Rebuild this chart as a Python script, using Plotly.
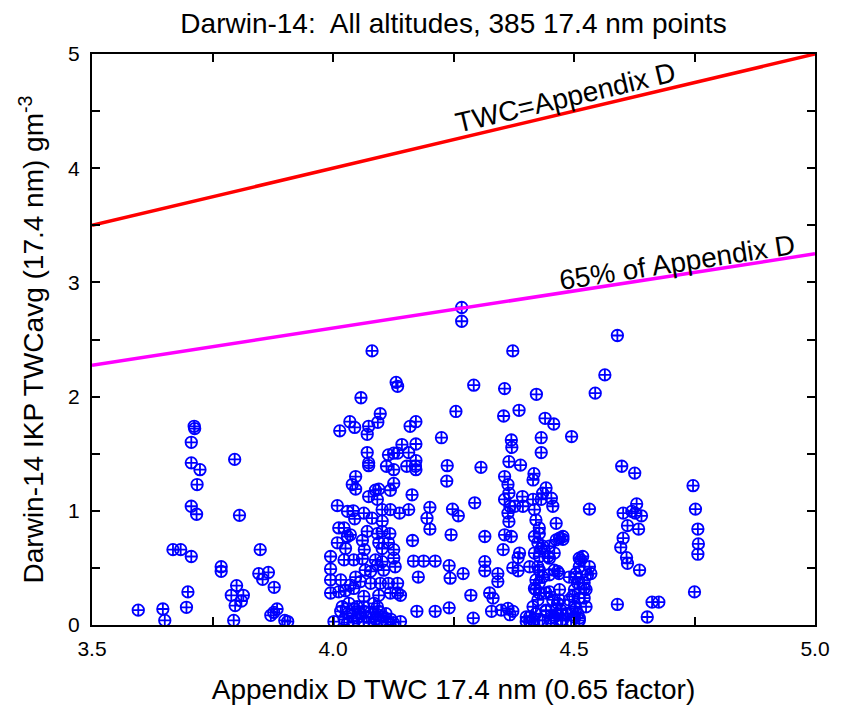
import plotly.graph_objects as go

# ---- Data ----
# Appendix D reference lines
line_x = [3.5, 5.0]
line_twc = [3.5, 5.0]          # TWC = Appendix D
line_65 = [2.275, 3.25]        # 65% of Appendix D

# Scatter points, grouped by cluster (x = Appendix D TWC, y = IKP TWCavg)
x_left = [3.596, 3.647, 3.651, 3.668, 3.684, 3.706, 3.699, 3.696, 3.712, 3.713, 3.706, 3.706,
          3.724, 3.718, 3.706, 3.717, 3.796, 3.806, 3.768, 3.768, 3.800, 3.789, 3.814, 3.810,
          3.797, 3.794, 3.849, 3.846, 3.854, 3.866, 3.878, 3.884, 3.877, 3.871, 3.900, 3.906]
y_left = [0.13, 0.14, 0.04, 0.66, 0.66, 0.60, 0.29, 0.155, 1.74, 1.72, 1.60, 1.42,
          1.36, 1.23, 1.04, 0.97, 1.45, 0.96, 0.51, 0.47, 0.345, 0.26, 0.26, 0.21,
          0.17, 0.04, 0.66, 0.45, 0.40, 0.46, 0.33, 0.14, 0.11, 0.085, 0.04, 0.03]

x_c40 = [4.081, 4.131, 4.134, 4.058, 4.098, 4.035, 4.045, 4.014, 4.074, 4.071, 4.093, 4.071,
         4.074, 4.074, 4.115, 4.126, 4.134, 4.111, 4.126, 4.047, 4.040, 4.047, 4.074, 4.088,
         4.095, 4.092, 4.119, 4.126, 4.009, 4.030, 4.042, 4.045, 4.064, 4.081, 4.102, 4.102,
         4.119, 4.138, 4.012, 4.023, 4.030, 4.036, 4.071, 4.092, 4.102, 4.118, 4.009, 4.026,
         4.061, 4.065, 4.095, 4.102, 4.115, 4.126, 3.995, 4.023, 4.043, 4.061, 4.088, 4.102,
         4.126, 4.129, 3.995, 4.047, 4.067, 4.078, 4.092, 4.105, 3.995, 4.016, 4.036, 4.057,
         4.078, 4.098, 4.115, 4.134, 3.995, 4.012, 4.026, 4.043, 4.064, 4.095, 4.119, 4.019,
         4.033, 4.050, 4.064, 4.085, 4.092, 4.134, 4.140,
         4.002, 4.016, 4.030, 4.045, 4.064, 4.078, 4.092, 4.105, 4.085, 4.064, 4.043, 4.112,
         4.023, 4.050, 4.070, 4.088, 4.100, 4.120, 4.030, 4.056, 4.075, 4.095, 4.110, 4.125,
         4.040]
y_c40 = [2.40, 2.125, 2.09, 1.99, 1.85, 1.78, 1.73, 1.70, 1.74, 1.67, 1.775, 1.51,
         1.42, 1.395, 1.49, 1.505, 1.505, 1.39, 1.36, 1.30, 1.23, 1.19, 1.125, 1.18,
         1.19, 1.10, 1.18, 1.24, 1.045, 0.995, 1.00, 0.93, 0.98, 0.935, 1.01, 0.91,
         1.01, 0.98, 0.85, 0.85, 0.775, 0.79, 0.82, 0.80, 0.82, 0.80, 0.72, 0.67,
         0.74, 0.66, 0.72, 0.67, 0.72, 0.66, 0.60, 0.57, 0.57, 0.58, 0.57, 0.555,
         0.585, 0.51, 0.49, 0.42, 0.48, 0.47, 0.525, 0.48, 0.395, 0.395, 0.35, 0.38,
         0.365, 0.365, 0.365, 0.365, 0.28, 0.29, 0.30, 0.32, 0.25, 0.26, 0.28, 0.16,
         0.19, 0.16, 0.16, 0.19, 0.16, 0.28, 0.03,
         0.03, 0.12, 0.10, 0.14, 0.12, 0.11, 0.09, 0.07, 0.03, 0.03, 0.03, 0.03,
         0.05, 0.06, 0.07, 0.05, 0.04, 0.05, 0.02, 0.10, 0.02, 0.12, 0.10, 0.02,
         0.08]

x_mid = [4.292, 4.255, 4.160, 4.172, 4.225, 4.143, 4.172, 4.157, 4.172, 4.153, 4.171, 4.172,
         4.237, 4.236, 4.307, 4.164, 4.157, 4.201, 4.195, 4.201, 4.248, 4.260, 4.294, 4.245,
         4.165, 4.315, 4.167, 4.188, 4.212, 4.241, 4.243, 4.270, 4.177, 4.315, 4.315, 4.140,
         4.286, 4.174, 4.212, 4.241, 4.291, 4.267, 4.267]
y_mid = [2.10, 1.87, 1.74, 1.78, 1.64, 1.58, 1.585, 1.51, 1.44, 1.39, 1.39, 1.36,
         1.395, 1.26, 1.38, 1.14, 1.01, 1.03, 0.935, 0.84, 1.015, 0.956, 1.07, 0.79,
         0.74, 0.775, 0.56, 0.56, 0.56, 0.52, 0.41, 0.45, 0.42, 0.555, 0.475, 0.26,
         0.26, 0.12, 0.12, 0.15, 0.06, 2.78, 2.66]

x_c44 = [4.373, 4.356, 4.422, 4.354, 4.386, 4.440, 4.458, 4.370, 4.371, 4.432, 4.432, 4.365,
         4.389, 4.356, 4.363, 4.365, 4.417, 4.415, 4.442, 4.435, 4.432, 4.393, 4.415, 4.453,
         4.456, 4.356, 4.367, 4.363, 4.365, 4.377, 4.394, 4.418, 4.421, 4.428, 4.463, 4.356,
         4.370, 4.418, 4.428, 4.353, 4.387, 4.384, 4.342, 4.373, 4.384, 4.408, 4.425, 4.418,
         4.432, 4.446, 4.459, 4.325, 4.332, 4.329, 4.349, 4.363, 4.367, 4.373, 4.342,
         4.428, 4.421, 4.435, 4.449, 4.466, 4.511, 4.535, 4.504, 4.418, 4.428, 4.449, 4.470,
         4.470, 4.490, 4.511, 4.521, 4.504, 4.511, 4.401, 4.421, 4.442, 4.463, 4.483, 4.428,
         4.408, 4.452, 4.476, 4.501, 4.425, 4.435, 4.449, 4.463, 4.470, 4.477, 4.428, 4.449,
         4.408, 4.415, 4.425, 4.421, 4.428, 4.442, 4.456, 4.442, 4.452, 4.466, 4.415, 4.435,
         4.401]
y_c44 = [2.40, 2.07, 2.02, 1.83, 1.88, 1.81, 1.76, 1.62, 1.555, 1.64, 1.51, 1.43,
         1.40, 1.30, 1.23, 1.155, 1.325, 1.27, 1.20, 1.155, 1.10, 1.125, 1.10, 1.11,
         1.04, 1.10, 1.04, 0.98, 0.905, 1.04, 1.04, 1.01, 0.92, 0.85, 0.89, 0.79,
         0.775, 0.775, 0.80, 0.66, 0.63, 0.59, 0.45, 0.50, 0.475, 0.51, 0.51, 0.63,
         0.67, 0.60, 0.63, 0.28, 0.235, 0.12, 0.13, 0.145, 0.09, 0.12, 0.38,
         0.48, 0.395, 0.42, 0.44, 0.47, 0.585, 0.45, 0.45, 0.32, 0.28, 0.29, 0.31,
         0.22, 0.22, 0.235, 0.32, 0.145, 0.06, 0.07, 0.10, 0.12, 0.13, 0.10, 0.04,
         0.03, 0.04, 0.04, 0.07, 0.72, 0.69, 0.69, 0.745, 0.76, 0.775, 0.60, 0.585,
         0.07, 0.16, 0.22, 0.31, 0.37, 0.28, 0.22, 0.13, 0.06, 0.10, 0.04, 0.04,
         0.03]

x_right = [4.590, 4.564, 4.544, 4.495, 4.599, 4.626, 4.532, 4.630, 4.602, 4.620, 4.627, 4.640,
           4.611, 4.634, 4.602, 4.597, 4.609, 4.611, 4.636, 4.590, 4.662, 4.676, 4.652, 4.747,
           4.752, 4.757, 4.758, 4.757, 4.750,
           4.477, 4.459, 4.469, 4.490, 4.514, 4.518, 4.511, 4.532, 4.528, 4.504, 4.507, 4.521,
           4.501, 4.525, 4.497, 4.521, 4.525, 4.501, 4.508, 4.511, 4.466, 4.473, 4.487, 4.494,
           4.459, 4.473]
y_right = [2.535, 2.19, 2.03, 1.65, 1.39, 1.33, 1.015, 1.06, 0.98, 0.995, 0.98, 0.956,
           0.87, 0.84, 0.76, 0.68, 0.59, 0.54, 0.48, 0.18, 0.20, 0.20, 0.07, 1.22,
           1.015, 0.84, 0.71, 0.62, 0.29,
           0.75, 0.48, 0.45, 0.42, 0.57, 0.60, 0.51, 0.51, 0.44, 0.42, 0.37, 0.37,
           0.31, 0.31, 0.25, 0.235, 0.16, 0.16, 0.10, 0.04, 0.19, 0.13, 0.10, 0.04,
           0.07, 0.04]

x_ticks = [3.5, 4.0, 4.5, 5.0]
x_tick_labels = ["3.5", "4.0", "4.5", "5.0"]
y_ticks = [0, 1, 2, 3, 4, 5]

pts_x = x_left + x_c40 + x_mid + x_c44 + x_right
pts_y = y_left + y_c40 + y_mid + y_c44 + y_right

FONT = "Liberation Sans, Arial, sans-serif"

fig = go.Figure()
fig.add_trace(go.Scatter(
    x=pts_x, y=pts_y, mode="markers",
    marker=dict(symbol="circle-cross-open", size=11.5, color="#0000FF",
                line=dict(width=1.8, color="#0000FF")),
    showlegend=False, cliponaxis=True,
))
fig.add_trace(go.Scatter(x=line_x, y=line_twc, mode="lines",
                         line=dict(color="#FF0000", width=3.5), showlegend=False))
fig.add_trace(go.Scatter(x=line_x, y=line_65, mode="lines",
                         line=dict(color="#FF00FF", width=3.5), showlegend=False))

axis_common = dict(
    showgrid=False, zeroline=False, showline=True, linecolor="black", linewidth=2,
    mirror="ticks", ticks="inside", ticklen=8, tickwidth=2, tickcolor="black",
    tickfont=dict(family=FONT, size=21, color="black"),
)

fig.update_xaxes(
    range=[3.5, 5.0], tickmode="array", tickvals=x_ticks, ticktext=x_tick_labels,
    minor=dict(dtick=0.25, tick0=3.5, ticks="inside", ticklen=8, tickwidth=2, tickcolor="black"),
    ticklabelstandoff=4,
    title=dict(text="Appendix D TWC 17.4 nm (0.65 factor)",
               font=dict(family=FONT, size=28, color="black"), standoff=20),
    **axis_common,
)
fig.update_yaxes(
    range=[0, 5], tickmode="array", tickvals=y_ticks,
    minor=dict(dtick=0.5, tick0=0, ticks="inside", ticklen=8, tickwidth=2, tickcolor="black"),
    ticklabelstandoff=6,
    title=dict(text="Darwin-14 IKP TWCavg (17.4 nm) gm<sup>-3</sup>",
               font=dict(family=FONT, size=28, color="black"), standoff=16),
    **axis_common,
)

fig.add_annotation(x=4.483, y=4.483, text="TWC=Appendix D", showarrow=False,
                   textangle=-13.3, yshift=16,
                   font=dict(family=FONT, size=28, color="black"))
fig.add_annotation(x=4.713, y=0.65 * 4.713, text="65% of Appendix D", showarrow=False,
                   textangle=-8.8, yshift=13,
                   font=dict(family=FONT, size=28, color="black"))

fig.update_layout(
    width=843, height=708,
    margin=dict(l=84, r=36, t=46, b=91),
    paper_bgcolor="white", plot_bgcolor="white",
    title=dict(text="Darwin-14:\u00a0 All altitudes, 385 17.4 nm points",
               x=0.5, xref="paper", y=0.979, yref="container",
               xanchor="center", yanchor="middle",
               font=dict(family=FONT, size=28, color="black")),
)

fig.write_html("out.html")
